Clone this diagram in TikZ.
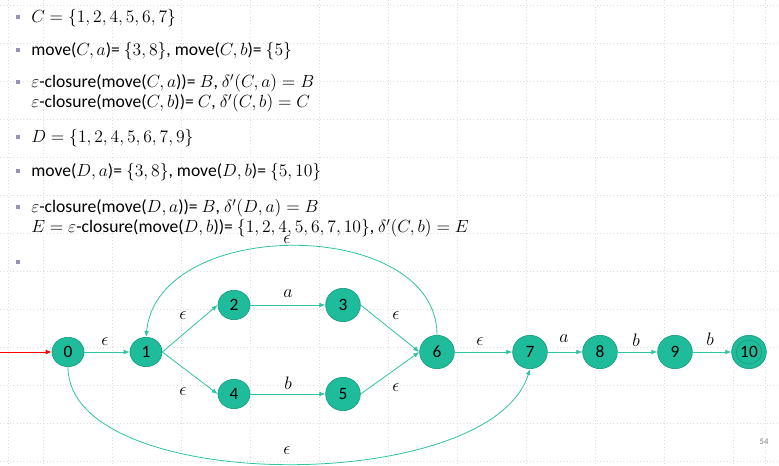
\RequirePackage{fix-cm}
\documentclass[tikz,border=0pt]{standalone}
\usepackage{fontspec}
\setmainfont{Carlito}
\usetikzlibrary{arrows.meta,shapes.geometric}
\definecolor{nodefill}{RGB}{30,188,154}
\definecolor{nodeborder}{RGB}{24,158,128}
\definecolor{edgecol}{RGB}{48,196,164}
\definecolor{gridcol}{RGB}{222,222,222}
\definecolor{bulletcol}{RGB}{150,146,180}
\definecolor{pagecol}{RGB}{160,160,160}
\tikzset{
  st/.style={ellipse, draw=nodeborder, fill=nodefill, line width=0.5pt, inner sep=0pt,
    minimum width=26pt, minimum height=25pt, font=\fontsize{13}{15}\selectfont},
  stsmall/.style={st, minimum width=24pt, minimum height=22pt},
  inner/.style={draw=nodeborder, line width=0.5pt},
  edge/.style={draw=edgecol, line width=0.6pt, -{Latex[length=4.5pt,width=3.6pt]}},
  lab/.style={font=\fontsize{13.5}{15}\selectfont, inner sep=0pt},
  txt/.style={anchor=base west, inner sep=0pt, font=\fontsize{13.2}{15}\selectfont},
  bul/.style={fill=bulletcol, minimum size=3.3pt, inner sep=0pt, draw=none}
}
\begin{document}
\begin{tikzpicture}[x=0.75pt, y=-0.75pt]
\useasboundingbox (0,0) rectangle (779,466);
\fill[white] (0,0) rectangle (779,466);
% grid
\foreach \gx in {8,43,112,181,250,319,388,457,526,595,664,733,765}
  \draw[gridcol, dotted, line width=0.5pt] (\gx,0) -- (\gx,466);
\foreach \gy in {5,43,81,119,157,195,233,271,309,347,385,423,461}
  \draw[gridcol, dotted, line width=0.5pt] (0,\gy) -- (779,\gy);
% bullets
\foreach \by [count=\i] in {17,50,82,137,171,207,262}
  \node[bul] (b\i) at (18,\by) {};
% text
\node[txt] (t1) at (31,23) {$C=\{1,2,4,5,6,7\}$};
\node[txt] (t2) at (31,56) {move($C,a$)= $\{3,8\}$, move($C,b$)= $\{5\}$};
\node[txt] (t3) at (31,88) {$\varepsilon$-closure(move($C,a$))= $B$, $\delta'(C,a)=B$};
\node[txt] (t4) at (31,108) {$\varepsilon$-closure(move($C,b$))= $C$, $\delta'(C,b)=C$};
\node[txt] (t5) at (31,143) {$D=\{1,2,4,5,6,7,9\}$};
\node[txt] (t6) at (31,177) {move($D,a$)= $\{3,8\}$, move($D,b$)= $\{5,10\}$};
\node[txt] (t7) at (31,213) {$\varepsilon$-closure(move($D,a$))= $B$, $\delta'(D,a)=B$};
\node[txt] (t8) at (31,233) {$E=\varepsilon$-closure(move($D,b$))= $\{1,2,4,5,6,7,10\}$, $\delta'(C,b)=E$};
% states
\node[stsmall] (n0) at (68,352) {0};
\node[stsmall] (n1) at (146,352) {1};
\node[stsmall] (n2) at (234,305) {2};
\node[st] (n3) at (343,305) {3};
\node[stsmall] (n4) at (234,394) {4};
\node[st] (n5) at (343,394) {5};
\node[st] (n6) at (437,352) {6};
\node[st] (n7) at (530,352) {7};
\node[st] (n8) at (600,352) {8};
\node[st] (n9) at (675,352) {9};
\node[st] (n10) at (749,352) {};
\draw[inner] (n10.center) ellipse [x radius=9.5pt, y radius=9pt];
\node[inner sep=0pt, font=\fontsize{13}{15}\selectfont] (n10t) at (n10.center) {10};
\coordinate (start) at (0,352);
% edges
\draw[edge, draw=red] (start) -- (n0);
\draw[edge] (n0) -- (n1);
\draw[edge] (n1.east) -- (n2.west);
\draw[edge] (n1.east) -- (n4.west);
\draw[edge] (n2) -- (n3);
\draw[edge] (n4) -- (n5);
\draw[edge] (n3.east) -- (n6.west);
\draw[edge] (n5.east) -- (n6.west);
\draw[edge] (n6) -- (n7);
\draw[edge] (n7) -- (n8);
\draw[edge] (n8) -- (n9);
\draw[edge] (n9) -- (n10);
\draw[edge] (n6.north) .. controls +(0,-118) and +(12,-122) .. (n1.north);
\draw[edge] (n0.south) .. controls +(0,128) and +(-40,128) .. (n7.south);
% labels
\node[lab] (l01) at (105,342) {$\epsilon$};
\node[lab] (l12) at (183,316) {$\epsilon$};
\node[lab] (l14) at (183,392) {$\epsilon$};
\node[lab] (l23) at (288,294) {$a$};
\node[lab] (l45) at (288,383) {$b$};
\node[lab] (l36) at (396,316) {$\epsilon$};
\node[lab] (l56) at (396,388) {$\epsilon$};
\node[lab] (l67) at (480,342) {$\epsilon$};
\node[lab] (l78) at (564,339) {$a$};
\node[lab] (l89) at (636,340) {$b$};
\node[lab] (l910) at (710,339) {$b$};
\node[lab] (l61) at (287,240) {$\epsilon$};
\node[lab] (l07) at (287,451) {$\epsilon$};
% page number
\node[font=\fontsize{6.5}{8}\selectfont\bfseries, text=pagecol, inner sep=0pt] (pg) at (764,442) {54};
\end{tikzpicture}
\end{document}
